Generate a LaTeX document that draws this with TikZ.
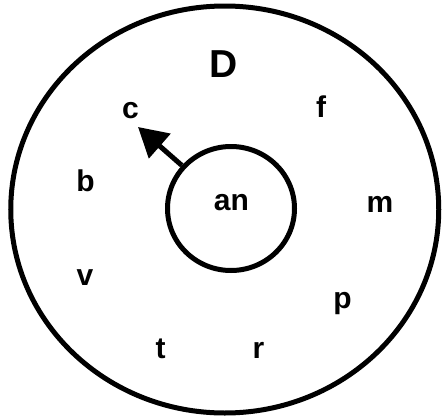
\documentclass[tikz,border=0pt]{standalone}
\usepackage{fontspec}
\setmainfont{Liberation Sans}
\usetikzlibrary{arrows.meta, shapes.geometric}

\begin{document}
\begin{tikzpicture}[
        x=1pt, y=-1pt,
        domain_node/.style={
            ellipse,
            draw=black,
            line width=5pt,
            minimum width=428pt,
            minimum height=407pt
        },
        inner_node/.style={
            ellipse,
            draw=black,
            line width=5pt,
            minimum width=127pt,
            minimum height=124pt
        },
        letter/.style={
            font=\bfseries\fontsize{30}{30}\selectfont,
            inner sep=0pt,
            anchor=base
        },
        arrow/.style={
            -{Triangle[length=29pt, width=32pt]},
            draw=black,
            line width=5pt
        }
    ]
    \useasboundingbox (0,0) rectangle (442,418);

    % Domain and inner set
    \node[domain_node] (dom) at (224.75,209.5) {};
    \node[inner_node] (inner) at (231,208.5) {};
    \node[letter] (an) at (231.5,210) {an};

    % Labels
    \node[letter, font=\bfseries\fontsize{39}{39}\selectfont] (dlabel) at (223.5,77) {D};
    \node[letter] (c) at (130.5,118) {c};
    \node[letter] (f) at (321,117) {f};
    \node[letter] (b) at (85.5,191) {b};
    \node[letter] (m) at (380,212) {m};
    \node[letter] (v) at (85,285) {v};
    \node[letter] (p) at (342.5,308) {p};
    \node[letter] (t) at (160.5,358) {t};
    \node[letter] (r) at (258.5,358) {r};

    % Arrow
    \coordinate (ctip) at (138,127);
    \draw[arrow] (inner) -- (ctip);

\end{tikzpicture}
\end{document}
